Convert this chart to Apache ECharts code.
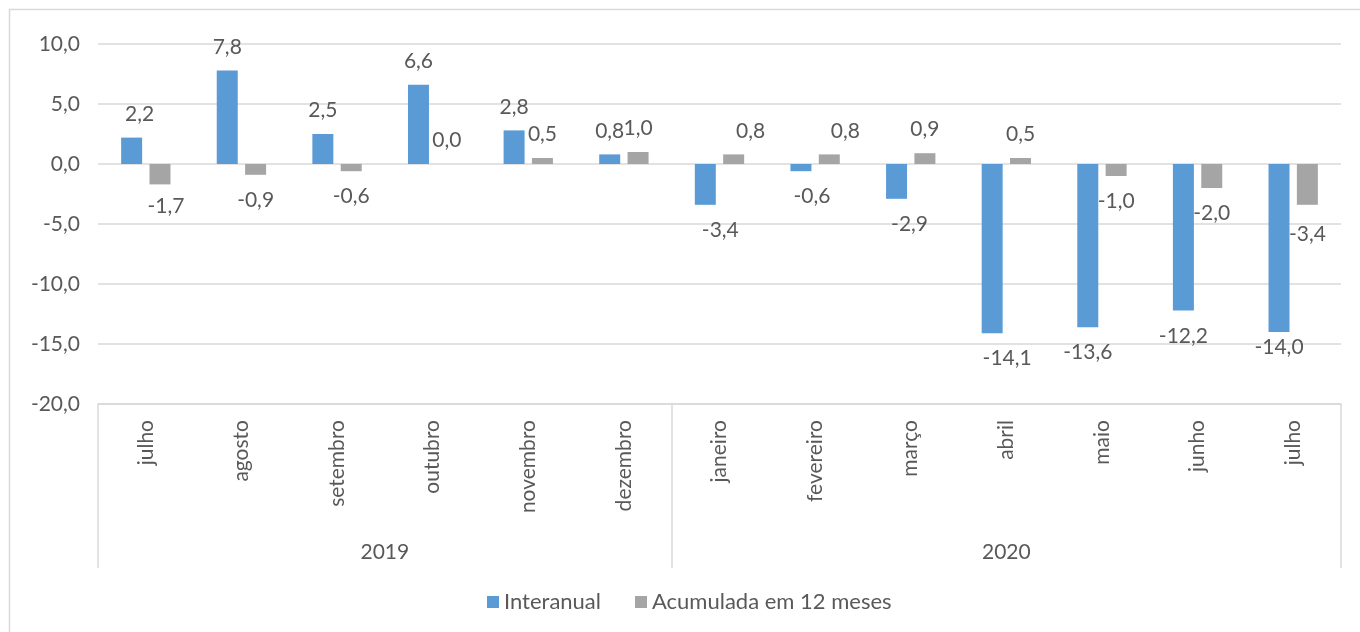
<!DOCTYPE html>
<html>
<head>
<meta charset="utf-8">
<script src="https://cdn.jsdelivr.net/npm/echarts@6/dist/echarts.min.js"></script>
<style>html,body{margin:0;padding:0;background:#fff;}#c{width:1360px;height:632px;}</style>
</head>
<body>
<div id="c"></div>
<script>
var months = ['julho','agosto','setembro','outubro','novembro','dezembro','janeiro','fevereiro','março','abril','maio','junho','julho'];
var years = ['2019','2020'];
var interanual = [2.2, 7.8, 2.5, 6.6, 2.8, 0.8, -3.4, -0.6, -2.9, -14.1, -13.6, -12.2, -14.0];
var acumulada = [-1.7, -0.9, -0.6, 0.0, 0.5, 1.0, 0.8, 0.8, 0.9, 0.5, -1.0, -2.0, -3.4];
var yTicks = [-20, -15, -10, -5, 0, 5, 10];

// label nudges (style only): [dx, dy]
var nudgeBlue = {0:[8,0], 6:[15,0], 7:[11,0], 8:[13,0], 9:[15,0], 12:[0,-10]};
var nudgeGrey = {0:[6,-4], 6:[17,0], 7:[16,0], 12:[0,4]};

var FONT = 'Lato, "Open Sans", sans-serif';
var TXT = '#595959';
function fmt(v){ return Number(v).toFixed(1).replace('.', ','); }
function items(arr, nudge){
  return arr.map(function(v, i){
    var n = nudge[i] || [0,0];
    return {value: v, label: {position: v >= 0 ? 'top' : 'bottom', distance: v >= 0 ? 13 : 15, offset: n}};
  });
}

var chart = echarts.init(document.getElementById('c'));
chart.setOption({
  animation: false,
  textStyle: {fontFamily: FONT},
  graphic: [{type:'rect', shape:{x:9.5, y:9.5, width:1400, height:700}, style:{fill:'none', stroke:'#D9D9D9', lineWidth:1.5}, silent:true}],
  grid: {left: 98, right: 19, top: 44, bottom: 228, containLabel: false},
  legend: {
    data: ['Interanual', 'Acumulada em 12 meses'],
    left: 482, top: 586, icon: 'rect', itemWidth: 12, itemHeight: 12, itemGap: 34,
    textStyle: {color: TXT, fontSize: 22, fontFamily: FONT}
  },
  xAxis: [{
    type: 'category', data: months, position: 'bottom',
    axisLine: {show: true, onZero: false, lineStyle: {color: '#D9D9D9', width: 1.5}},
    axisTick: {show: true, length: 164, interval: function(i){ return i === 0 || i === 6; }, lineStyle: {color: '#D9D9D9', width: 1.5}},
    axisLabel: {interval: 0, rotate: 90, margin: 16, color: TXT, fontSize: 21, fontFamily: FONT},
    splitLine: {show: false}
  }, {
    type: 'value', min: 0, max: 13, interval: 0.5, position: 'bottom', offset: 134,
    axisLine: {show: false, onZero: false}, axisTick: {show: false}, splitLine: {show: false},
    axisLabel: {margin: 4, color: TXT, fontSize: 21, fontFamily: FONT, showMinLabel: false, showMaxLabel: false,
      formatter: function(v){ return v === 3 ? years[0] : (v === 9.5 ? years[1] : ''); }}
  }],
  yAxis: {
    type: 'value', min: yTicks[0], max: yTicks[yTicks.length-1], interval: 5,
    axisLine: {show: false}, axisTick: {show: false},
    axisLabel: {margin: 18, color: TXT, fontSize: 21, fontFamily: FONT, formatter: fmt},
    splitLine: {lineStyle: {color: '#D9D9D9', width: 1.5}}
  },
  series: [{
    name: 'Interanual', type: 'bar', xAxisIndex: 0, data: items(interanual, nudgeBlue),
    barWidth: 21, barGap: '35%', itemStyle: {color: '#5B9BD5'},
    label: {show: true, color: TXT, fontSize: 21, fontFamily: FONT, formatter: function(p){ return fmt(p.value); }}
  }, {
    name: 'Acumulada em 12 meses', type: 'bar', xAxisIndex: 0, data: items(acumulada, nudgeGrey),
    barWidth: 21, itemStyle: {color: '#A5A5A5'},
    label: {show: true, color: TXT, fontSize: 21, fontFamily: FONT, formatter: function(p){ return fmt(p.value); }}
  }]
});
</script>
</body>
</html>
